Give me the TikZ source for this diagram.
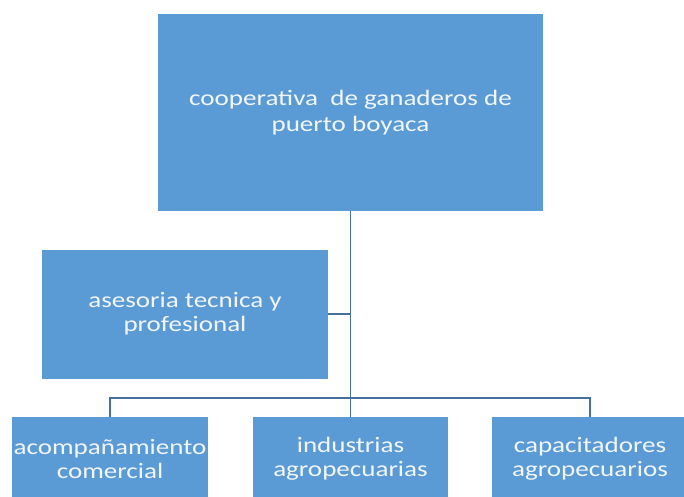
\documentclass[tikz,border=0pt]{standalone}
\usepackage{fontspec}
\setmainfont[FakeStretch=1.23]{Carlito}
\usepackage{tikz}

\definecolor{boxblue}{HTML}{5B9BD5}
\definecolor{linkblue}{HTML}{44709E}
\definecolor{boxtext}{HTML}{F2F6FB}

\begin{document}
\begin{tikzpicture}[x=1pt,y=1pt]

   \tikzstyle{every node}+=[inner sep=0pt]
   \tikzstyle{unit}=[fill=boxblue, text=boxtext, align=center,
      font=\fontsize{22}{24}\selectfont]
   \tikzstyle{link}=[draw=linkblue, line width=1.6pt]

   \useasboundingbox (0,0) rectangle (684,-496);

   \node [unit, minimum width=385, minimum height=197,
      font=\fontsize{22}{26.5}\selectfont] (coop) at (350.5,-112.5)
      {cooperativa \ de ganaderos de\\puerto boyaca};
   \node [unit, minimum width=286, minimum height=129] (ases) at (185,-314)
      {asesoria tecnica y\\profesional};
   \node [unit, minimum width=196, minimum height=84] (acom) at (110,-459)
      {acompañamiento\\comercial};
   \node [unit, minimum width=195, minimum height=84] (indu) at (350.5,-459)
      {industrias\\agropecuarias};
   \node [unit, minimum width=196, minimum height=84] (capa) at (590,-459)
      {capacitadores\\agropecuarios};

   \coordinate (bus) at (350.5,-398);

   \draw [link] (coop.south) -- (indu.north);
   \draw [link] (ases.east) -- (ases.east -| coop.south);
   \draw [link] (acom.north) |- (bus) -| (capa.north);

\end{tikzpicture}
\end{document}
